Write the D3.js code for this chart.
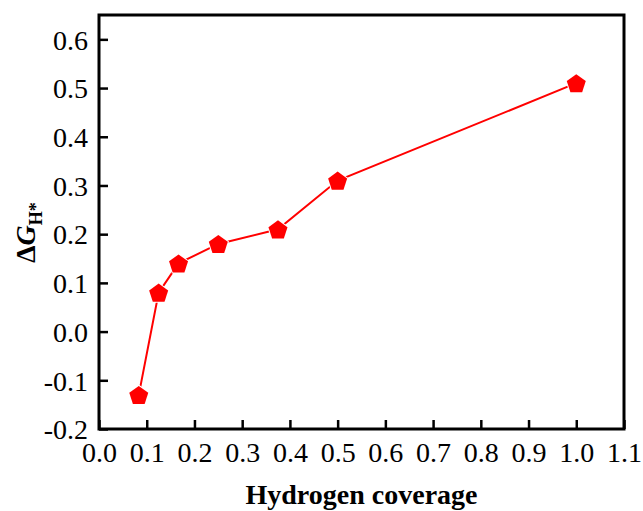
<!DOCTYPE html>
<html><head><meta charset="utf-8">
<script src="https://cdn.jsdelivr.net/npm/d3@7"></script>
<style>body{margin:0;background:#fff}</style>
</head><body>
<script>
const coverage = [1/12, 0.125, 1/6, 0.25, 0.375, 0.5, 1.0];
const deltaG = [-0.13, 0.08, 0.14, 0.18, 0.21, 0.31, 0.51];
const xTicks = [0.0,0.1,0.2,0.3,0.4,0.5,0.6,0.7,0.8,0.9,1.0,1.1];
const yTicks = [-0.2,-0.1,0.0,0.1,0.2,0.3,0.4,0.5,0.6];

const W=643,H=511;
const FF='"Liberation Serif"';
const svg=d3.select("body").append("svg").attr("width",W).attr("height",H);
const L=99,R=624,T=15,B=429;
const x=d3.scaleLinear().domain([0,1.1]).range([L,R]);
const y=d3.scaleLinear().domain([-0.2,0.65]).range([B,T]);

const gx=svg.append("g").attr("transform",`translate(0,${B})`)
 .call(d3.axisBottom(x).tickValues(xTicks).tickSizeInner(-9).tickSizeOuter(0).tickPadding(13));
const gy=svg.append("g").attr("transform",`translate(${L},0)`)
 .call(d3.axisLeft(y).tickValues(yTicks).tickSizeInner(-9).tickSizeOuter(0).tickPadding(11));
[gx,gy].forEach(g=>{
  g.attr("font-family",null).attr("font-size",null);
  g.select(".domain").remove();
  g.selectAll(".tick line").attr("stroke","#000").attr("stroke-width",2.5);
  g.selectAll(".tick text").style("font-family",FF).style("font-size","28px").attr("fill","#000")
   .text(d=>d3.format(".1f")(d).replace("\u2212","-"));
});
gx.selectAll(".tick text").attr("dy","0.71em");
gy.selectAll(".tick text").attr("dy","0.35em");

svg.append("rect").attr("x",L).attr("y",T).attr("width",R-L).attr("height",B-T)
 .attr("fill","none").attr("stroke","#000").attr("stroke-width",3);

const data=coverage.map((c,i)=>({x:c,y:deltaG[i]}));
svg.append("path").datum(data)
 .attr("d",d3.line().x(d=>x(d.x)).y(d=>y(d.y)))
 .attr("fill","none").attr("stroke","#ff0000").attr("stroke-width",2);

const r=10;
const pent=d3.range(5).map(k=>{const a=-Math.PI/2+k*2*Math.PI/5;return [r*Math.cos(a),r*Math.sin(a)];});
svg.selectAll(".m").data(data).enter().append("polygon")
 .attr("points",pent.map(p=>p.join(",")).join(" "))
 .attr("transform",d=>`translate(${x(d.x)},${y(d.y)+1})`)
 .attr("fill","#ff0000").attr("stroke","#fff").attr("stroke-width",2).attr("paint-order","stroke");

svg.append("text").attr("x",(L+R)/2).attr("y",504).attr("text-anchor","middle")
 .style("font-family",FF).style("font-size","28px").style("font-weight","bold").text("Hydrogen coverage");

const yt=svg.append("text").attr("transform","translate(35,263) rotate(-90)")
 .style("font-family",FF).style("font-weight","bold").style("font-size","28px");
yt.append("tspan").text("Δ");
yt.append("tspan").style("font-style","italic").text("G");
yt.append("tspan").style("font-size","18px").attr("dy",7).text("H*");
</script>
</body></html>
